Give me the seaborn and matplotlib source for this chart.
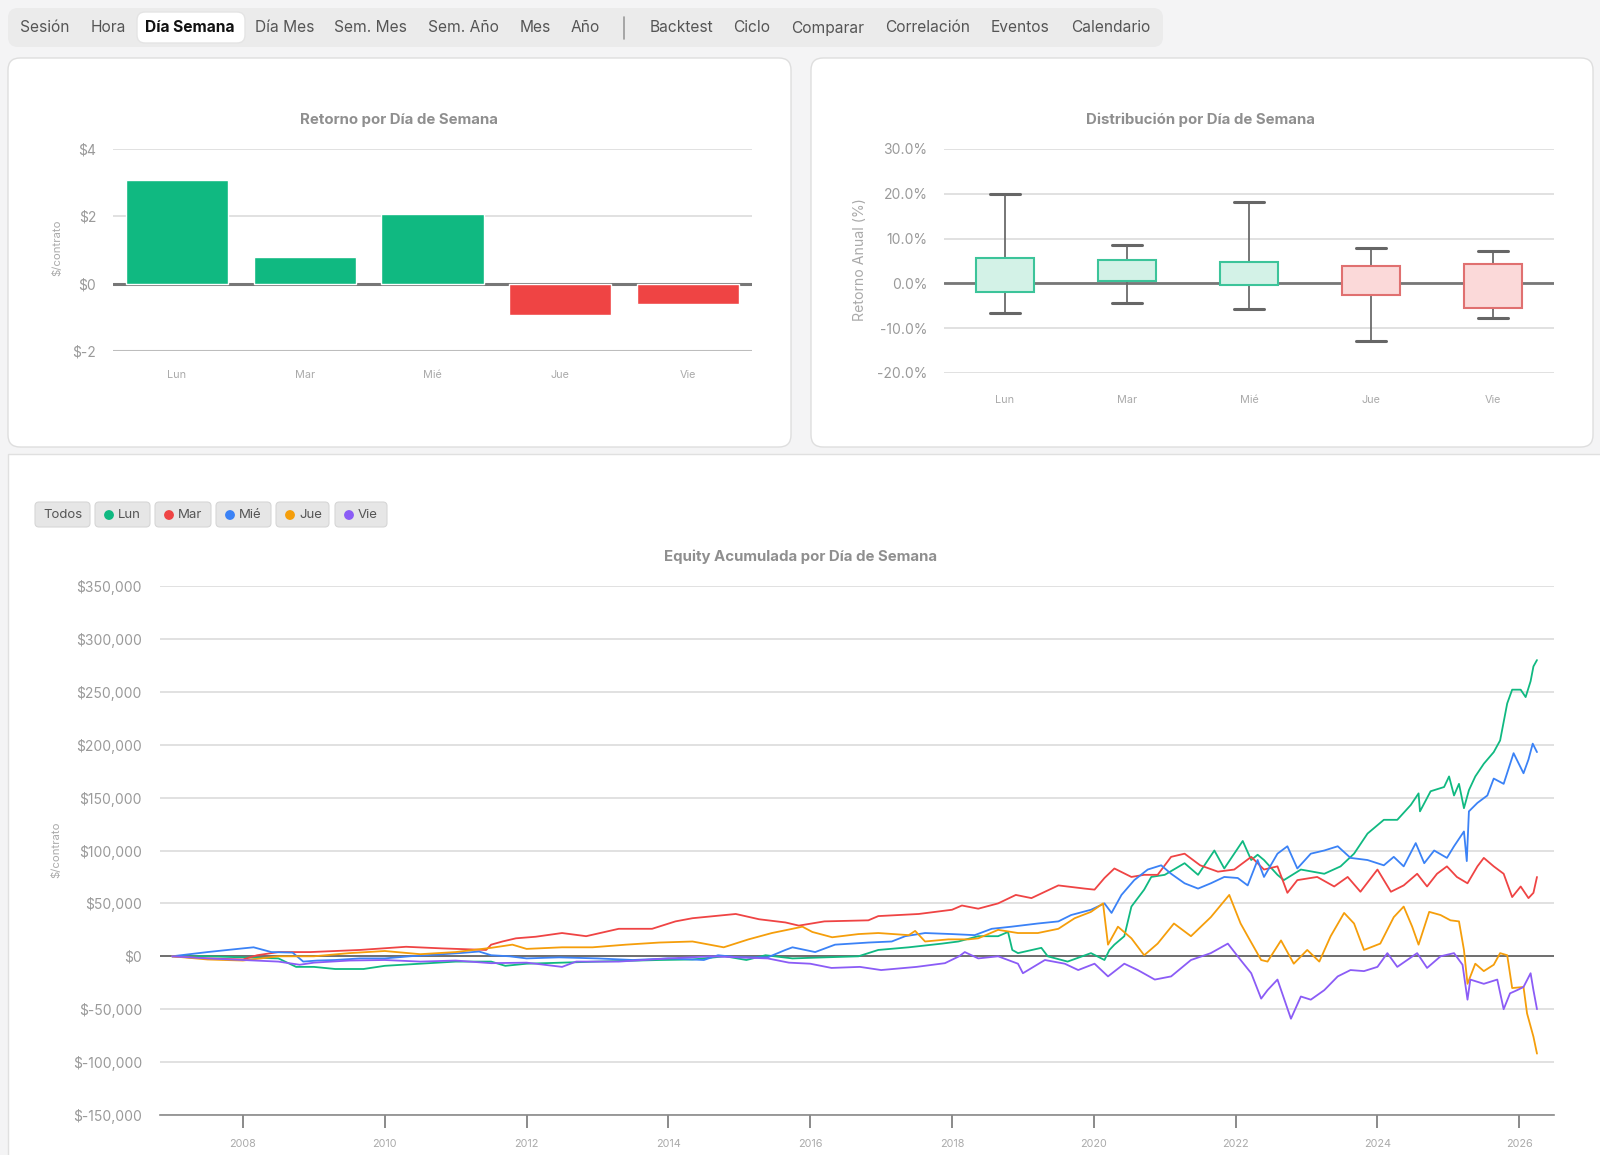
import matplotlib
matplotlib.use("Agg")
import matplotlib.pyplot as plt
from matplotlib.patches import FancyBboxPatch, Rectangle, Circle
from matplotlib.ticker import FuncFormatter
import pandas as pd
import seaborn as sns

sns.set_theme(style="whitegrid")
plt.rcParams['font.family'] = ['Inter', 'DejaVu Sans']

dias = ["Lun", "Mar", "Mié", "Jue", "Vie"]

# retorno medio por dia ($/contrato)
retorno = [3.07, 0.78, 2.06, -0.92, -0.59]

# distribucion del retorno anual (%)
caja_whislo = [-6.5, -4.3, -5.7, -12.8, -7.8]
caja_q1 = [-1.9, 0.5, -0.3, -2.6, -5.4]
caja_med = [2.8, 3.4, 3.7, 2.4, -1.0]
caja_q3 = [5.7, 5.2, 4.8, 3.8, 4.3]
caja_whishi = [20.0, 8.5, 18.1, 7.9, 7.2]

# equity acumulada, en miles de $
lun_t = [2007.0, 2007.5, 2008.0, 2008.5, 2008.75, 2009.0, 2009.3, 2009.7, 2010.0, 2010.5, 2011.0, 2011.5, 2011.7, 2012.0, 2012.5, 2013.0, 2013.87, 2014.34, 2014.8, 2015.1, 2015.37, 2015.75, 2016.2, 2016.68, 2016.96, 2017.39, 2017.86, 2018.09, 2018.37, 2018.65, 2018.79, 2018.85, 2018.93, 2019.26, 2019.35, 2019.63, 2019.96, 2020.15, 2020.22, 2020.29, 2020.43, 2020.53, 2020.71, 2020.81, 2021.0, 2021.28, 2021.47, 2021.7, 2021.84, 2022.1, 2022.22, 2022.31, 2022.4, 2022.59, 2022.68, 2022.92, 2023.25, 2023.48, 2023.67, 2023.86, 2024.09, 2024.28, 2024.47, 2024.58, 2024.6, 2024.75, 2024.94, 2025.01, 2025.08, 2025.15, 2025.22, 2025.29, 2025.38, 2025.5, 2025.64, 2025.73, 2025.83, 2025.9, 2026.02, 2026.09, 2026.16, 2026.2, 2026.25]
lun_v = [0, 0, -1, -2, -10, -10, -12, -12, -9, -7, -5, -5, -9, -7, -6, -5, -3.5, -3, 0, -3.5, 1, -2, -1, 0, 6, 8.5, 12, 14, 19, 19, 23, 6, 3, 8, 0, -5, 3, -3.5, 6, 11, 19, 47, 63, 75, 77, 88, 77, 100, 83, 109, 91, 96, 91, 77, 72, 82, 78, 85, 97, 116, 129, 129, 143, 154, 137, 156, 160, 170, 152, 163, 140, 157, 170, 182, 193, 204, 239, 252, 252, 245, 260, 274, 280]

mar_t = [2007.0, 2007.5, 2008.0, 2008.2, 2008.5, 2008.95, 2009.65, 2010.3, 2010.8, 2011.43, 2011.5, 2011.66, 2011.85, 2012.13, 2012.5, 2012.84, 2013.3, 2013.77, 2014.1, 2014.34, 2014.95, 2015.28, 2015.65, 2015.84, 2016.2, 2016.82, 2016.96, 2017.53, 2018.0, 2018.14, 2018.37, 2018.65, 2018.9, 2019.12, 2019.5, 2019.87, 2020.01, 2020.15, 2020.29, 2020.53, 2020.71, 2020.9, 2021.09, 2021.28, 2021.5, 2021.75, 2021.98, 2022.22, 2022.4, 2022.59, 2022.73, 2022.87, 2023.15, 2023.39, 2023.58, 2023.76, 2024.0, 2024.19, 2024.37, 2024.56, 2024.7, 2024.84, 2024.98, 2025.12, 2025.27, 2025.41, 2025.5, 2025.64, 2025.78, 2025.9, 2026.02, 2026.13, 2026.2, 2026.25]
mar_v = [0, -2, -3, 1, 4, 4, 6, 9, 7.5, 6, 11, 14, 17, 18.5, 22, 19, 26, 26, 33, 36, 40, 35, 32, 29, 33, 34, 38, 40, 44, 48, 45, 50, 58, 55, 67, 64, 63, 74, 83, 75, 77, 77, 94, 97, 86, 80, 82, 94, 82, 85, 60, 72, 75, 66, 75, 61, 82, 61, 67, 78, 66, 78, 85, 75, 69, 85, 93, 85, 78, 56, 66, 55, 60, 75]

mie_t = [2007.0, 2007.5, 2008.0, 2008.15, 2008.4, 2008.7, 2008.85, 2009.05, 2009.3, 2009.65, 2010.0, 2010.35, 2011.05, 2011.33, 2011.5, 2011.76, 2012.0, 2012.46, 2013.0, 2013.5, 2014.0, 2014.5, 2014.7, 2015.0, 2015.4, 2015.65, 2015.75, 2016.07, 2016.35, 2016.82, 2017.15, 2017.34, 2017.62, 2018.0, 2018.32, 2018.56, 2018.84, 2019.21, 2019.5, 2019.68, 2019.96, 2020.15, 2020.25, 2020.39, 2020.57, 2020.76, 2020.95, 2021.09, 2021.28, 2021.47, 2021.65, 2021.84, 2022.03, 2022.17, 2022.31, 2022.4, 2022.59, 2022.73, 2022.87, 2023.06, 2023.25, 2023.44, 2023.62, 2023.86, 2024.09, 2024.23, 2024.37, 2024.54, 2024.66, 2024.8, 2024.98, 2025.08, 2025.22, 2025.26, 2025.29, 2025.41, 2025.55, 2025.64, 2025.78, 2025.92, 2026.06, 2026.13, 2026.19, 2026.25]
mie_v = [0, 4, 7.5, 8.5, 4, 3.5, -5, -4, -3.5, -2, -2, 0, 3, 4.5, 1, 0, -2, -1, -2, -3.5, -2, -3.5, 1, -1, -1, 6, 8.5, 4, 11, 13, 14, 19, 22, 21, 20, 26, 28, 31, 33, 39, 44, 50, 41, 58, 72, 82, 86, 78, 69, 64, 69, 75, 74, 67, 91, 75, 97, 104, 83, 97, 100, 104, 93, 91, 86, 94, 85, 107, 88, 100, 93, 104, 118, 90, 137, 145, 152, 168, 163, 192, 173, 186, 201, 193]

jue_t = [2007.0, 2007.5, 2008.0, 2008.5, 2009.0, 2009.5, 2010.0, 2010.5, 2011.0, 2011.5, 2011.8, 2012.0, 2012.5, 2012.93, 2013.4, 2013.87, 2014.34, 2014.78, 2015.13, 2015.46, 2015.75, 2015.89, 2016.03, 2016.31, 2016.68, 2016.96, 2017.39, 2017.48, 2017.62, 2017.95, 2018.23, 2018.37, 2018.65, 2018.93, 2019.21, 2019.5, 2019.73, 2019.96, 2020.13, 2020.2, 2020.34, 2020.53, 2020.71, 2020.9, 2021.13, 2021.37, 2021.65, 2021.91, 2022.07, 2022.17, 2022.36, 2022.45, 2022.64, 2022.82, 2023.01, 2023.18, 2023.34, 2023.53, 2023.67, 2023.81, 2024.04, 2024.23, 2024.37, 2024.49, 2024.58, 2024.73, 2024.89, 2025.03, 2025.15, 2025.22, 2025.27, 2025.38, 2025.5, 2025.64, 2025.73, 2025.83, 2025.9, 2026.06, 2026.11, 2026.2, 2026.25]
jue_v = [0, -3, -4, 0, 0, 3, 5, 2, 4, 8, 11, 7, 8.5, 8.5, 11, 13, 14, 8.5, 16, 22, 26, 28, 23, 18, 21, 22, 20, 24, 14, 16, 16, 17, 25, 22, 22, 26, 36, 42, 50, 11, 28, 17, 1, 12, 31, 19, 37, 58, 31, 19, -3.5, -5, 15, -7, 6, -5, 19, 41, 31, 6, 12, 37, 47, 28, 11, 42, 39, 34, 33, 6, -26, -7, -14, -8, 3, 1, -30, -29, -54, -76, -92]

vie_t = [2007.0, 2007.5, 2008.0, 2008.5, 2008.8, 2009.0, 2009.5, 2010.0, 2010.5, 2011.0, 2011.5, 2012.0, 2012.5, 2012.7, 2013.3, 2014.0, 2014.6, 2015.0, 2015.4, 2015.7, 2016.0, 2016.3, 2016.7, 2017.0, 2017.5, 2017.9, 2018.1, 2018.18, 2018.37, 2018.65, 2018.93, 2019.0, 2019.31, 2019.59, 2019.78, 2020.01, 2020.2, 2020.43, 2020.62, 2020.86, 2021.09, 2021.37, 2021.65, 2021.89, 2022.07, 2022.22, 2022.36, 2022.45, 2022.59, 2022.78, 2022.92, 2023.06, 2023.25, 2023.44, 2023.62, 2023.81, 2024.0, 2024.14, 2024.28, 2024.42, 2024.56, 2024.7, 2024.89, 2025.08, 2025.2, 2025.27, 2025.31, 2025.5, 2025.69, 2025.78, 2025.87, 2025.97, 2026.06, 2026.16, 2026.2, 2026.25]
vie_v = [0, -2, -3.5, -5, -8, -6, -4, -3.5, -5, -4, -6.5, -6, -10, -5, -5, -2, 0, -1, -2, -6, -7, -11, -10, -13, -10, -6.5, 0, 4, -2, 0, -7, -16, -3.5, -7, -13, -7, -19, -7, -13, -22, -19, -3.5, 3, 12, -3.5, -16, -40, -32, -22, -59, -38, -41, -32, -19, -13, -14, -10, 3, -10, -3.5, 3, -11, 0, 3, -8, -41, -22, -26, -22, -50, -35, -32, -29, -16, -32, -50]

colores = {"Lun": "#10b981", "Mar": "#ef4444", "Mié": "#3b82f6",
           "Jue": "#f59e0b", "Vie": "#8b5cf6"}
VERDE, ROJO = "#10b981", "#ef4444"
GRIS_TXT = "#9a9a9a"

nav = ["Sesión", "Hora", "Día Semana", "Día Mes", "Sem. Mes", "Sem. Año", "Mes", "Año",
       "Backtest", "Ciclo", "Comparar", "Correlación", "Eventos", "Calendario"]
nav_x = [45, 108, 190, 285, 370, 463, 535, 585, 681, 752, 828, 928, 1020, 1111]

W, H = 1600, 1155
fig = plt.figure(figsize=(16, 11.55), dpi=100)
fig.patch.set_facecolor("#f4f4f5")

# fondo en coordenadas de pixel
bg = fig.add_axes([0, 0, 1, 1], zorder=-10)
bg.set_xlim(0, W)
bg.set_ylim(H, 0)
bg.axis("off")


def card(x0, y0, x1, y1, r=12, fc="white", ec="#dedede", lw=1.0):
    bg.add_patch(FancyBboxPatch((x0 + r, y0 + r), x1 - x0 - 2 * r, y1 - y0 - 2 * r,
                                boxstyle=f"round,pad={r}", fc=fc, ec=ec, lw=lw))


# barra de navegacion
card(8, 8, 1163, 47, r=10, fc="#ebebeb", ec="none")
card(137, 12, 245, 43, r=8, fc="white", ec="#e4e4e4")
for lab, x in zip(nav, nav_x):
    sel = lab == "Día Semana"
    bg.text(x, 28, lab, ha="center", va="center", fontsize=11.2,
            color="#111111" if sel else "#555555", fontweight="bold" if sel else "normal")
bg.plot([624, 624], [17, 39], color="#9a9a9a", lw=1.2)

# tarjetas superiores y panel inferior
card(8, 58, 791, 447)
card(811, 58, 1593, 447)
bg.add_patch(Rectangle((8, 454), 1620, 720, fc="white", ec="#e0e0e0", lw=1.0))

# titulos y etiquetas
bg.text(399, 120, "Retorno por Día de Semana", ha="center", va="center",
        fontsize=10.8, fontweight="bold", color="#8f8f8f")
bg.text(1201, 120, "Distribución por Día de Semana", ha="center", va="center",
        fontsize=10.8, fontweight="bold", color="#8f8f8f")
bg.text(801, 557, "Equity Acumulada por Día de Semana", ha="center", va="center",
        fontsize=10.8, fontweight="bold", color="#8f8f8f")
bg.text(57, 248, "$/contrato", rotation=90, ha="center", va="center", fontsize=8.2, color="#aaaaaa")
bg.text(860, 260, "Retorno Anual (%)", rotation=90, ha="center", va="center", fontsize=10.2, color="#aaaaaa")
bg.text(56, 850, "$/contrato", rotation=90, ha="center", va="center", fontsize=8.2, color="#aaaaaa")

# botones de filtro
botones = [("Todos", 35, 90), ("Lun", 95, 150), ("Mar", 155, 211),
           ("Mié", 216, 271), ("Jue", 276, 329), ("Vie", 335, 387)]
for lab, x0, x1 in botones:
    card(x0, 502, x1, 527, r=4, fc="#e6e6e6", ec="#d6d6d6", lw=0.8)
    if lab == "Todos":
        bg.text((x0 + x1) / 2, 515, lab, ha="center", va="center", fontsize=9.5, color="#555555")
    else:
        bg.add_patch(Circle((x0 + 14, 515), 4.2, color=colores[lab]))
        bg.text(x0 + 23, 515, lab, ha="left", va="center", fontsize=9.5, color="#555555")


def estilo(ax):
    for s in ax.spines.values():
        s.set_visible(False)
    ax.set_facecolor("none")
    ax.xaxis.grid(False)
    ax.yaxis.grid(True, color="#dcdcdc", lw=1.2)
    ax.set_xlabel("")
    ax.set_ylabel("")


# ---- retorno por dia ----
ax1 = fig.add_axes([113 / W, 1 - 351 / H, 639 / W, 202 / H])
bar_cols = [VERDE if r >= 0 else ROJO for r in retorno]
ax1.axhline(0, color="#777777", lw=2.2, zorder=1)
sns.barplot(x=dias, y=retorno, hue=dias, palette=bar_cols, legend=False,
            width=0.8, saturation=1, ax=ax1, zorder=3)
estilo(ax1)
ax1.axhline(-2, color="#bdbdbd", lw=1.5, zorder=1)
ax1.set_ylim(-2, 4)
ax1.set_xlim(-0.5, 4.5)
ax1.set_yticks([-2, 0, 2, 4])
ax1.yaxis.set_major_formatter(FuncFormatter(lambda v, p: f"${v:.0f}"))
ax1.tick_params(axis="y", length=0, pad=12, labelsize=10, labelcolor=GRIS_TXT)
ax1.tick_params(axis="x", length=0, pad=14, labelsize=7.8, labelcolor="#aaaaaa")

# ---- distribucion ----
ax2 = fig.add_axes([944 / W, 1 - 373 / H, 610 / W, 224 / H])
stats = [dict(label=d, whislo=a, q1=b, med=c, q3=e, whishi=f, fliers=[])
         for d, a, b, c, e, f in zip(dias, caja_whislo, caja_q1, caja_med, caja_q3, caja_whishi)]
ax2.axhline(0, color="#777777", lw=2.0, zorder=1)
bp = ax2.bxp(stats, positions=range(5), widths=0.48, capwidths=0.24, patch_artist=True,
             showfliers=False,
             whiskerprops=dict(color="#6b6b6b", lw=1.3),
             capprops=dict(color="#666666", lw=2.2),
             medianprops=dict(color="white", lw=2, alpha=0.75))
for caja, r in zip(bp["boxes"], retorno):
    if r >= 0:
        caja.set_facecolor("#d3f2e7")
        caja.set_edgecolor("#3cc49a")
    else:
        caja.set_facecolor("#fbd9d9")
        caja.set_edgecolor("#e07070")
    caja.set_linewidth(1.5)
    caja.set_zorder(3)
sns.despine(ax=ax2, left=True, bottom=True)
estilo(ax2)
ax2.set_ylim(-20, 30)
ax2.set_xlim(-0.5, 4.5)
ax2.set_yticks([-20, -10, 0, 10, 20, 30])
ax2.set_xticks(range(5))
ax2.set_xticklabels(dias)
ax2.yaxis.set_major_formatter(FuncFormatter(lambda v, p: f"{v:.1f}%"))
ax2.tick_params(axis="y", length=0, pad=12, labelsize=10, labelcolor=GRIS_TXT)
ax2.tick_params(axis="x", length=0, pad=16, labelsize=7.8, labelcolor="#aaaaaa")

# ---- equity acumulada ----
series = {"Lun": (lun_t, lun_v), "Mar": (mar_t, mar_v), "Mié": (mie_t, mie_v),
          "Jue": (jue_t, jue_v), "Vie": (vie_t, vie_v)}
partes = []
for d, (t, v) in series.items():
    p = pd.DataFrame({"fecha": t, "equity": v})
    p["equity"] = p["equity"] * 1000
    p["dia"] = d
    partes.append(p)
df = pd.concat(partes, ignore_index=True)

ax3 = fig.add_axes([160 / W, 1 - 1115 / H, 1394 / W, 529 / H])
ax3.axhline(0, color="#666666", lw=1.3, zorder=1)
sns.lineplot(data=df, x="fecha", y="equity", hue="dia", hue_order=dias, palette=colores,
             estimator=None, legend=False, linewidth=1.3, ax=ax3, zorder=3)
estilo(ax3)
ax3.spines["bottom"].set_visible(True)
ax3.spines["bottom"].set_color("#8a8a8a")
ax3.spines["bottom"].set_linewidth(1.2)
ax3.set_ylim(-150000, 350000)
ax3.set_xlim(2006.83, 2026.49)
ax3.set_yticks(range(-150000, 350001, 50000))
ax3.set_xticks(range(2008, 2027, 2))
ax3.set_xticklabels([str(a) for a in range(2008, 2027, 2)])
ax3.yaxis.set_major_formatter(FuncFormatter(lambda v, p: f"${v:,.0f}"))
ax3.tick_params(axis="y", length=0, pad=13, labelsize=10, labelcolor=GRIS_TXT)
ax3.tick_params(axis="x", bottom=True, length=9, width=1.2, color="#777777", direction="out",
                pad=8, labelsize=7.8, labelcolor="#aaaaaa")

fig.savefig("out.png", dpi=100, facecolor=fig.get_facecolor())
